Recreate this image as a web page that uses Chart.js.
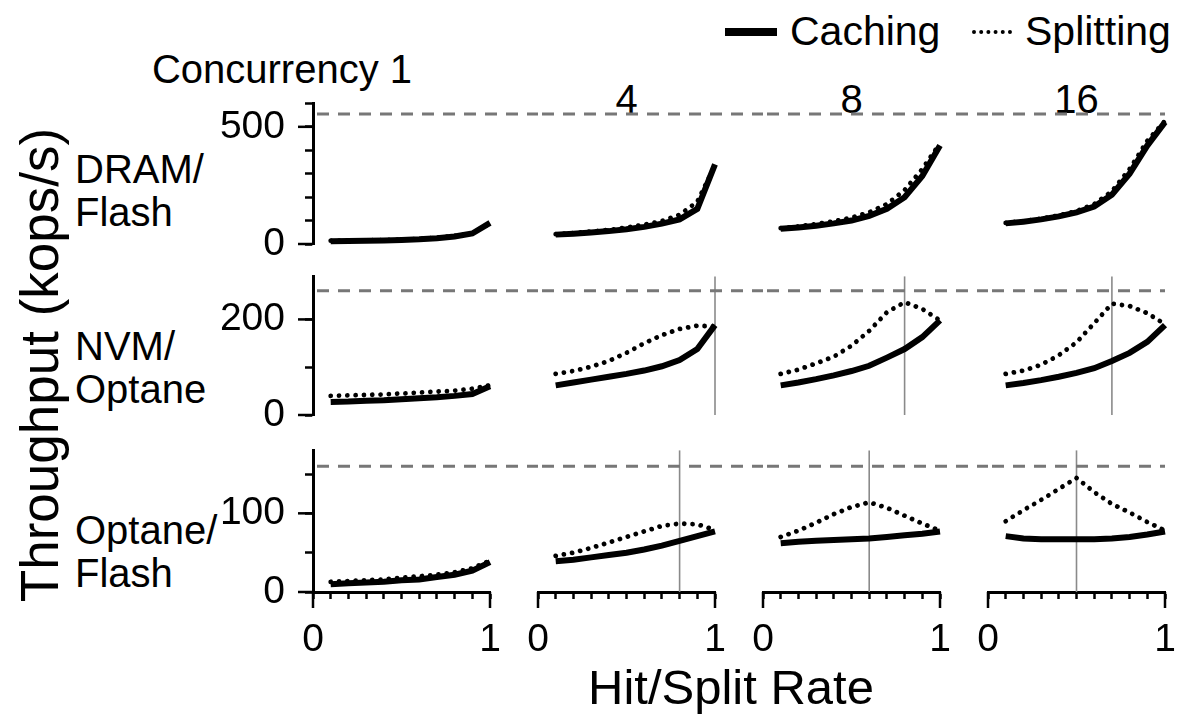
<!DOCTYPE html>
<html>
<head>
<meta charset="utf-8">
<script src="https://cdn.jsdelivr.net/npm/chart.js@4.4.1/dist/chart.umd.min.js"></script>
<style>
  html, body { margin: 0; padding: 0; background: #fff; }
  #fig { position: relative; width: 1184px; height: 726px; overflow: hidden;
         font-family: "Liberation Sans", Arial, Helvetica, sans-serif; color: #000; }
  .txt { position: absolute; white-space: nowrap; font-size: 40px; line-height: 43px; }
  .panel { position: absolute; }
</style>
</head>
<body>
<div id="fig"></div>
<script>
// ---- data ----
const hitRate = [0.1, 0.2, 0.3, 0.4, 0.5, 0.6, 0.7, 0.8, 0.9, 1.0];
const concurrencyLabels = ["Concurrency 1", "4", "8", "16"];
const tierLabels = [["DRAM/", "Flash"], ["NVM/", "Optane"], ["Optane/", "Flash"]];

// one inner array per concurrency level (1, 4, 8, 16)
const dramFlashCaching = [
  [12, 13, 14, 15, 17, 20, 25, 32, 45, 90],
  [40, 44, 49, 55, 63, 73, 87, 105, 150, 340],
  [65, 70, 78, 88, 100, 120, 150, 200, 290, 420],
  [88, 95, 105, 118, 135, 160, 210, 300, 420, 520]
];
const dramFlashSplitting = [
  [14, 15, 16, 17, 19, 22, 27, 34, 46, 88],
  [42, 47, 53, 60, 70, 82, 98, 125, 180, 335],
  [68, 75, 85, 97, 112, 135, 170, 230, 320, 430],
  [90, 98, 108, 122, 140, 170, 225, 320, 440, 525]
];
const nvmOptaneCaching = [
  [27, 28, 30, 31, 33, 35, 37, 40, 44, 60],
  [62, 68, 74, 80, 86, 93, 102, 115, 138, 188],
  [62, 68, 75, 83, 92, 103, 120, 138, 163, 198],
  [62, 67, 73, 80, 88, 98, 113, 130, 153, 188]
];
const nvmOptaneSplitting = [
  [40, 41, 42, 43, 45, 47, 49, 51, 55, 62],
  [86, 92, 101, 113, 130, 150, 167, 180, 187, 185],
  [86, 95, 108, 122, 145, 176, 215, 236, 222, 198],
  [86, 93, 105, 125, 152, 192, 233, 228, 213, 190]
];
const optaneFlashCaching = [
  [10, 11, 12, 13, 15, 16, 19, 22, 27, 38],
  [39, 41, 44, 47, 50, 54, 59, 65, 71, 77],
  [62, 64, 65, 66, 67, 68, 70, 72, 74, 77],
  [71, 68, 67, 67, 67, 67, 68, 70, 73, 77]
];
const optaneFlashSplitting = [
  [13, 14, 15, 16, 18, 20, 22, 25, 30, 40],
  [46, 50, 56, 63, 70, 77, 84, 87, 86, 79],
  [70, 78, 88, 99, 108, 114, 107, 97, 87, 78],
  [90, 104, 117, 131, 145, 127, 112, 101, 89, 78]
];

// dashed reference level per tier, vertical marker per panel (null = none)
const peakThroughput = [555, 260, 160];
const bestSplitRate = [
  [null, null, null, null],
  [null, 1.0, 0.8, 0.7],
  [null, 0.8, 0.6, 0.5]
];

// axes
const yMax = [600, 290, 180];
const yTicks = [[0, 100, 200, 300, 400, 500, 600], [0, 100, 200], [0, 50, 100, 150]];
const yLabels = [[0, 500], [0, 200], [0, 100]];
const xTicks = [0, 0.1, 0.2, 0.3, 0.4, 0.5, 0.6, 0.7, 0.8, 0.9, 1];
const xLabels = [0, 1];

const tiers = [
  { caching: dramFlashCaching, splitting: dramFlashSplitting },
  { caching: nvmOptaneCaching, splitting: nvmOptaneSplitting },
  { caching: optaneFlashCaching, splitting: optaneFlashSplitting }
];

// ---- layout ----
const FONT = '"Liberation Sans", Arial, Helvetica, sans-serif';
const colLeft = [313, 538, 763, 988];
const plotW = 177;
const rowTop = [100, 273, 447];
const plotH = [144, 142, 145];
const padL = 110, padR = 60, padT = 40, padB = 80;
const colGap = colLeft[1] - colLeft[0] - plotW;
const NONE = "rgba(0,0,0,0)";

const fig = document.getElementById("fig");

function addText(html, style) {
  const d = document.createElement("div");
  d.className = "txt";
  d.innerHTML = html;
  Object.assign(d.style, style);
  fig.appendChild(d);
  return d;
}

// legend
const legSolid = document.createElement("div");
Object.assign(legSolid.style, { position: "absolute", left: "725px", top: "28px", width: "52px", height: "8px", background: "#000" });
fig.appendChild(legSolid);
const legDot = document.createElement("div");
Object.assign(legDot.style, { position: "absolute", left: "972px", top: "30px", width: "40px", height: "0", borderTop: "4px dotted #000" });
fig.appendChild(legDot);
addText("Caching", { left: "790px", top: "10px", fontSize: "41px" });
addText("Splitting", { left: "1025px", top: "10px", fontSize: "41px" });

// column titles
addText(concurrencyLabels[0], { right: (1184 - 412) + "px", top: "48px" });
for (let c = 1; c < 4; c++) {
  addText(concurrencyLabels[c], { left: (colLeft[c] + plotW / 2) + "px", top: "78px", transform: "translateX(-50%)" });
}

// row labels
const tierTop = [148, 325, 509];
tierLabels.forEach((t, r) => addText(t.join("<br>"), { left: "75px", top: tierTop[r] + "px" }));

// axis titles
addText("Throughput (kops/s)", { left: "40px", top: "365px", fontSize: "53px", lineHeight: "56px",
  transform: "translate(-50%, -50%) rotate(-90deg)" });
addText("Hit/Split Rate", { left: "731px", top: "687px", fontSize: "49px", lineHeight: "52px",
  transform: "translate(-50%, -50%)" });

// ---- per-panel extra marks: peak level, best split marker, long major ticks ----
const panelMarks = {
  id: "panelMarks",
  beforeDatasetsDraw(chart, args, opts) {
    const { ctx, chartArea: a, scales } = chart;
    ctx.save();
    if (opts.marker != null) {
      const x = scales.x.getPixelForValue(opts.marker);
      ctx.strokeStyle = "#8a8a8a";
      ctx.lineWidth = 1.6;
      ctx.beginPath();
      ctx.moveTo(x, a.top);
      ctx.lineTo(x, a.bottom);
      ctx.stroke();
    }
    const y = scales.y.getPixelForValue(opts.peak);
    ctx.strokeStyle = "#777";
    ctx.lineWidth = 3;
    ctx.setLineDash([12, 9]);
    ctx.beginPath();
    ctx.moveTo(a.left + 4, y);
    ctx.lineTo(opts.last ? a.right : a.right + colGap, y);
    ctx.stroke();
    ctx.restore();
  },
  afterDraw(chart, args, opts) {
    const { ctx, chartArea: a, scales } = chart;
    ctx.save();
    ctx.strokeStyle = "#000";
    ctx.lineWidth = 2.5;
    if (opts.yAxis) {
      yLabels[opts.row].forEach(v => {
        const y = scales.y.getPixelForValue(v);
        ctx.beginPath();
        ctx.moveTo(a.left - 15, y);
        ctx.lineTo(a.left, y);
        ctx.stroke();
      });
    }
    if (opts.xAxis) {
      xLabels.forEach(v => {
        const x = scales.x.getPixelForValue(v);
        ctx.beginPath();
        ctx.moveTo(x, a.bottom);
        ctx.lineTo(x, a.bottom + 16);
        ctx.stroke();
      });
    }
    ctx.restore();
  }
};

// invisible spacer axis: fixes the margin on one side of the plot area
function spacer(position, size) {
  return {
    type: "linear", position, display: true,
    grid: { display: false }, border: { display: false }, ticks: { display: false },
    afterFit: s => { if (s.isHorizontal()) s.height = size; else s.width = size; }
  };
}

tiers.forEach((tier, r) => {
  for (let c = 0; c < 4; c++) {
    const w = padL + plotW + padR;
    const h = padT + plotH[r] + padB;
    const canvas = document.createElement("canvas");
    canvas.className = "panel";
    canvas.width = w;
    canvas.height = h;
    Object.assign(canvas.style, {
      left: (colLeft[c] - padL) + "px", top: (rowTop[r] - padT) + "px",
      width: w + "px", height: h + "px"
    });
    fig.appendChild(canvas);

    // every panel lays out the same axes; only the outer ones are painted
    const showX = r === 2, showY = c === 0;
    const xInk = showX ? "#000" : NONE;
    const yInk = showY ? "#000" : NONE;

    new Chart(canvas, {
      type: "line",
      data: {
        datasets: [
          {
            label: "Caching",
            data: hitRate.map((x, i) => ({ x, y: tier.caching[c][i] })),
            xAxisID: "x", yAxisID: "y",
            borderColor: "#000",
            borderWidth: 6,
            pointRadius: 0,
            tension: 0,
            clip: false
          },
          {
            label: "Splitting",
            data: hitRate.map((x, i) => ({ x, y: tier.splitting[c][i] })),
            xAxisID: "x", yAxisID: "y",
            borderColor: "#000",
            borderWidth: 4.8,
            borderDash: [0.01, 8.3],
            borderCapStyle: "round",
            pointRadius: 0,
            tension: 0,
            clip: false
          }
        ]
      },
      options: {
        responsive: false,
        animation: false,
        events: [],
        layout: { padding: 0 },
        plugins: {
          legend: { display: false },
          tooltip: { enabled: false },
          panelMarks: { row: r, peak: peakThroughput[r], marker: bestSplitRate[r][c], last: c === 3, yAxis: showY, xAxis: showX }
        },
        scales: {
          x: {
            type: "linear",
            position: "bottom",
            min: 0,
            max: 1,
            afterBuildTicks: s => { s.ticks = xTicks.map(v => ({ value: v })); },
            afterFit: s => { s.height = padB; },
            grid: { drawOnChartArea: false, tickLength: 7, tickWidth: 2.5, tickColor: xInk },
            border: { color: xInk, width: 3 },
            ticks: {
              autoSkip: false, maxRotation: 0, padding: 18, color: xInk,
              font: { family: FONT, size: 39 },
              callback: v => (xLabels.includes(v) ? String(v) : "")
            }
          },
          y: {
            type: "linear",
            position: "left",
            min: 0,
            max: yMax[r],
            afterBuildTicks: s => { s.ticks = yTicks[r].map(v => ({ value: v })); },
            afterFit: s => { s.width = padL; },
            grid: { drawOnChartArea: false, tickLength: 8, tickWidth: 2.5, tickColor: yInk },
            border: { color: yInk, width: 3 },
            ticks: {
              autoSkip: false, padding: 20, color: yInk,
              font: { family: FONT, size: 39 },
              callback: v => (yLabels[r].includes(v) ? String(v) : "")
            }
          },
          topSpace: spacer("top", padT),
          rightSpace: spacer("right", padR)
        }
      },
      plugins: [panelMarks]
    });
  }
});
</script>
</body>
</html>
